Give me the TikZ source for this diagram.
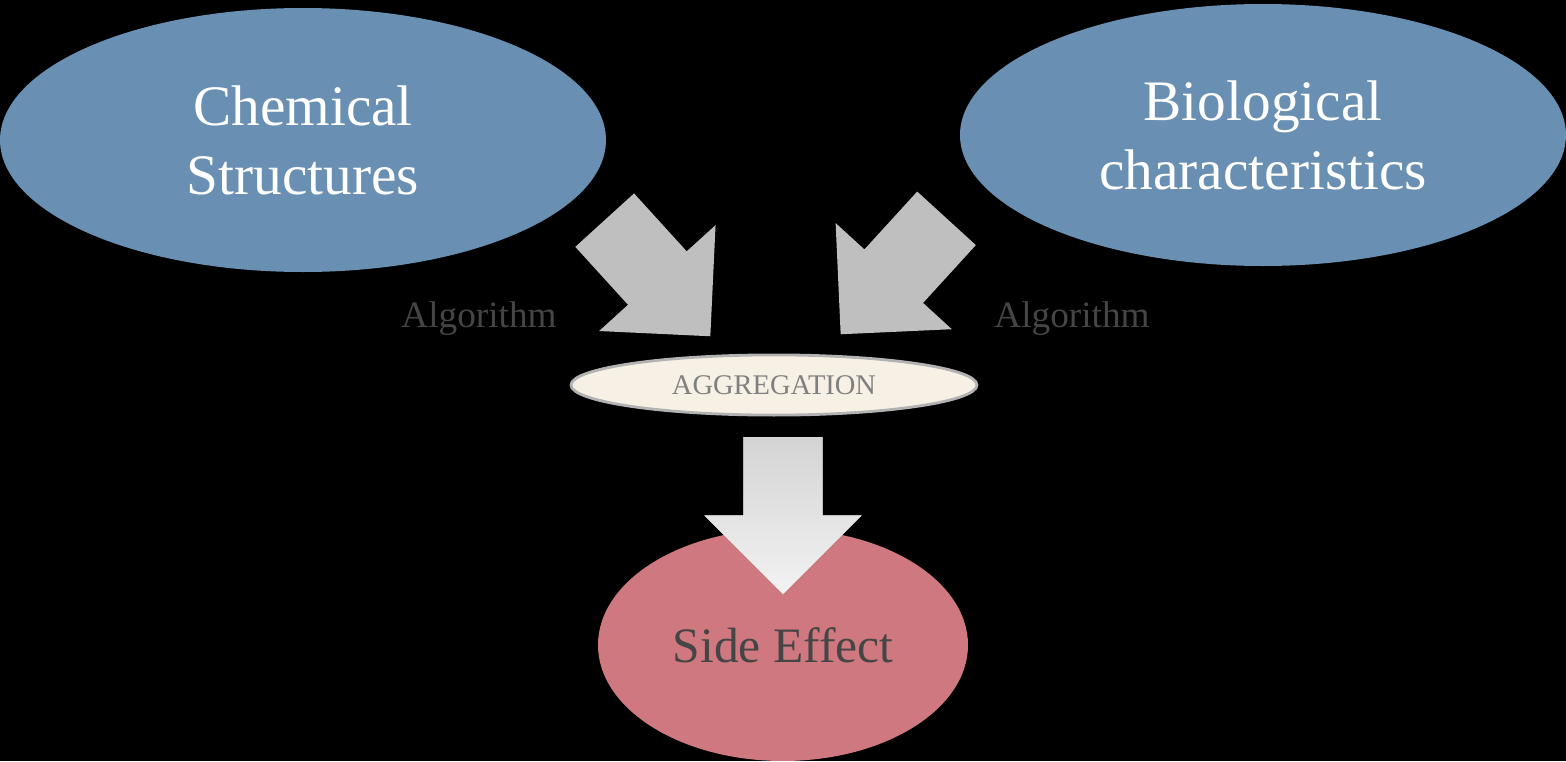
\documentclass[tikz,border=0pt]{standalone}
\usepackage{fontspec}
\setmainfont{Liberation Serif}
\usetikzlibrary{positioning, shapes, shapes.arrows}
\definecolor{sourceblue}{HTML}{6990B2}
\definecolor{effectred}{HTML}{D07880}
\definecolor{aggcream}{HTML}{F6F1E4}
\definecolor{labelgray}{HTML}{454545}
\tikzstyle{source} = [ellipse, fill=sourceblue, text=white,
    minimum width=6.06cm, minimum height=2.64cm,
    align=center, font=\fontsize{16.3}{19.6}\selectfont]
\tikzstyle{bigarrow} = [single arrow, fill=black!25,
    inner xsep=0pt, inner ysep=0.39cm,
    minimum height=1.57cm, minimum width=1.56cm,
    single arrow head extend=0.39cm, single arrow tip angle=90]
\tikzstyle{algolabel} = [text=labelgray, font=\fontsize{10.6}{12}\selectfont]

\begin{document}
\begin{tikzpicture}
        \fill[black] (0,0) rectangle (15.66,7.61);
        \useasboundingbox (0,0) rectangle (15.66,7.61);

        \node[source] (chem) at (3.03,6.21) {Chemical\\Structures};
        \node[source, minimum height=2.62cm] (bio) at (12.63,6.26)
            {Biological\\characteristics};

        \node[
            ellipse,
            draw=black!30, line width=0.8pt,
            fill=aggcream,
            minimum width=4.06cm, minimum height=0.60cm,
            text=black!50,
            font=\fontsize{8.1}{10}\selectfont
        ](agg) at (7.74,3.76){AGGREGATION};

        \node[
            ellipse,
            fill=effectred,
            minimum width=3.70cm, minimum height=2.32cm,
            text=labelgray,
            font=\fontsize{14.1}{17}\selectfont
        ](effect) at (7.83,1.16){Side Effect};

        \node[bigarrow, rotate=-47.7, anchor=tip] (leftarrow) at (7.11,4.24) {};
        \node[bigarrow, rotate=-132.4, anchor=tip] (rightarrow) at (8.40,4.26) {};
        \node[bigarrow, rotate=-90, anchor=tip,
            top color=black!17, bottom color=black!5] (downarrow) at (7.83,1.66) {};

        \node[algolabel] (algoleft) at (4.79,4.42) {Algorithm};
        \node[algolabel] (algoright) at (10.72,4.42) {Algorithm};
    \end{tikzpicture}
\end{document}
